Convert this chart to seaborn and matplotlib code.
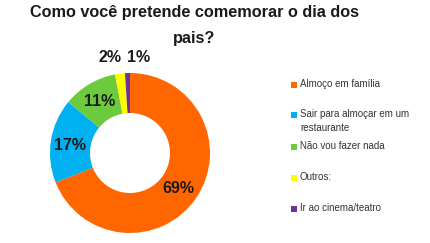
import matplotlib
matplotlib.use("Agg")
import matplotlib.pyplot as plt
from matplotlib.patches import Rectangle
import seaborn as sns

categories = ["Almoço em família", "Sair para almoçar em um\nrestaurante", "Não vou fazer nada", "Outros:", "Ir ao cinema/teatro"]
values = [69, 17, 11, 2, 1]
pct_labels = ["69%", "17%", "11%", "2%", "1%"]
colors = ["#FF6600", "#00B0F0", "#6CCB3C", "#FFFF00", "#7030A0"]

sns.set_theme(style="white")
plt.rcParams['font.family'] = ['Liberation Sans', 'DejaVu Sans']

W, H = 430, 243
fig = plt.figure(figsize=(W / 100, H / 100), dpi=100)
ax = fig.add_axes([50 / W, 10 / H, 160 / W, 160 / H])

wedges, _ = ax.pie(values, colors=colors, startangle=90, counterclock=False,
                   radius=1.0, wedgeprops=dict(width=0.5, edgecolor="none"))
ax.set_xlim(-1, 1)
ax.set_ylim(-1, 1)
ax.set_aspect("equal")
ax.axis("off")

# percentage labels
label_pos = [(0.60, -0.44), (-0.75, 0.10), (-0.38, 0.64), (-0.25, 1.19), (0.11, 1.19)]
for (x, y), t in zip(label_pos, pct_labels):
    ax.text(x, y, t, ha="center", va="center", fontsize=11.5, fontweight="bold",
            color="#1a1a1a", clip_on=False)

fig.text(194 / W, 1 - 13 / H, "Como você pretende comemorar o dia dos", ha="center", va="center",
         fontsize=11.7, fontweight="bold", color="#1a1a1a")
fig.text(194 / W, 1 - 38 / H, "pais?", ha="center", va="center",
         fontsize=11.7, fontweight="bold", color="#1a1a1a")

# legend (manual placement to match reference spacing)
marker_y = [85, 115, 147, 178, 209]
for c, lab, y in zip(colors, categories, marker_y):
    fig.patches.append(Rectangle((291 / W, 1 - (y + 3) / H), 6 / W, 6 / H,
                                 transform=fig.transFigure, facecolor=c, edgecolor="none"))
    nlines = lab.count("\n") + 1
    fig.text(300 / W, 1 - (y - 6) / H, lab, ha="left", va="top", fontsize=7,
             color="#333333", linespacing=1.45)

fig.savefig("out.png", dpi=100)
